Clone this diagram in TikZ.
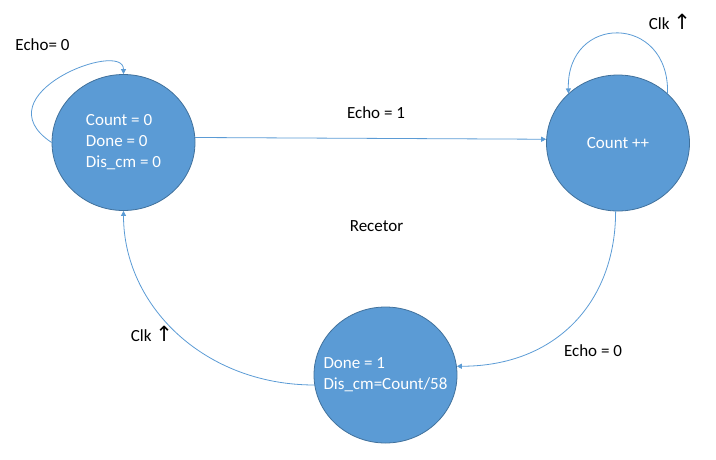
\documentclass[tikz,border=0pt]{standalone}
\usepackage{fontspec}
\setmainfont{Carlito}
\newfontfamily\arrowfont{DejaVu Sans}
\usetikzlibrary{shapes.geometric,arrows.meta}
\definecolor{stfill}{HTML}{5B9BD5}
\definecolor{stline}{HTML}{41719C}
\newcommand{\uparr}{{\arrowfont\fontsize{21}{21}\selectfont ↑}}
\begin{document}
\begin{tikzpicture}[x=1pt, y=-1pt, >={Triangle[length=5pt,width=5pt]}, every node/.style={font=\fontsize{17}{21}\selectfont}, state node/.style={ellipse,draw=stline,fill=stfill,line width=0.8pt,minimum width=143pt,minimum height=136pt,inner sep=0pt,text=white,align=left}, link/.style={color=stfill,line width=0.8pt,->}]
\useasboundingbox (0,0) rectangle (716,459);
\begin{scope}
\node[state node] (s0) at (123.5,142.5) {Count = 0\\Done = 0\\Dis\_cm = 0};
\node[state node] (s1) at (618,143) {Count ++};
\node[state node, inner xsep=-13pt] (s2) at (385.5,375) {Done = 1\\Dis\_cm=Count/58};
\end{scope}
\begin{scope}
\node (echoa) at (42.5,45) {Echo= 0};
\node (clka) at (670,22) {Clk \uparr};
\node (echob) at (376,113) {Echo = 1};
\node (recetor) at (376.5,226) {Recetor};
\node (echoc) at (593,351) {Echo = 0};
\node (clkb) at (152,334) {Clk \uparr};
\end{scope}
\begin{scope}
\draw[link] (s0.180) .. controls +(-72,-48) and +(0,-35) .. (s0.90);
\draw[link] (s1.45) .. controls +(2,-80) and +(-2,-80) .. (s1.135);
\draw[link] (s0.4) -- (s1.177);
\draw[link] (s1.268) .. controls +(0,90) and +(100,0) .. (s2.7);
\draw[link] (s2.188) .. controls +(-110,0) and +(0,95) .. (s0.270);
\end{scope}
\end{tikzpicture}
\end{document}
